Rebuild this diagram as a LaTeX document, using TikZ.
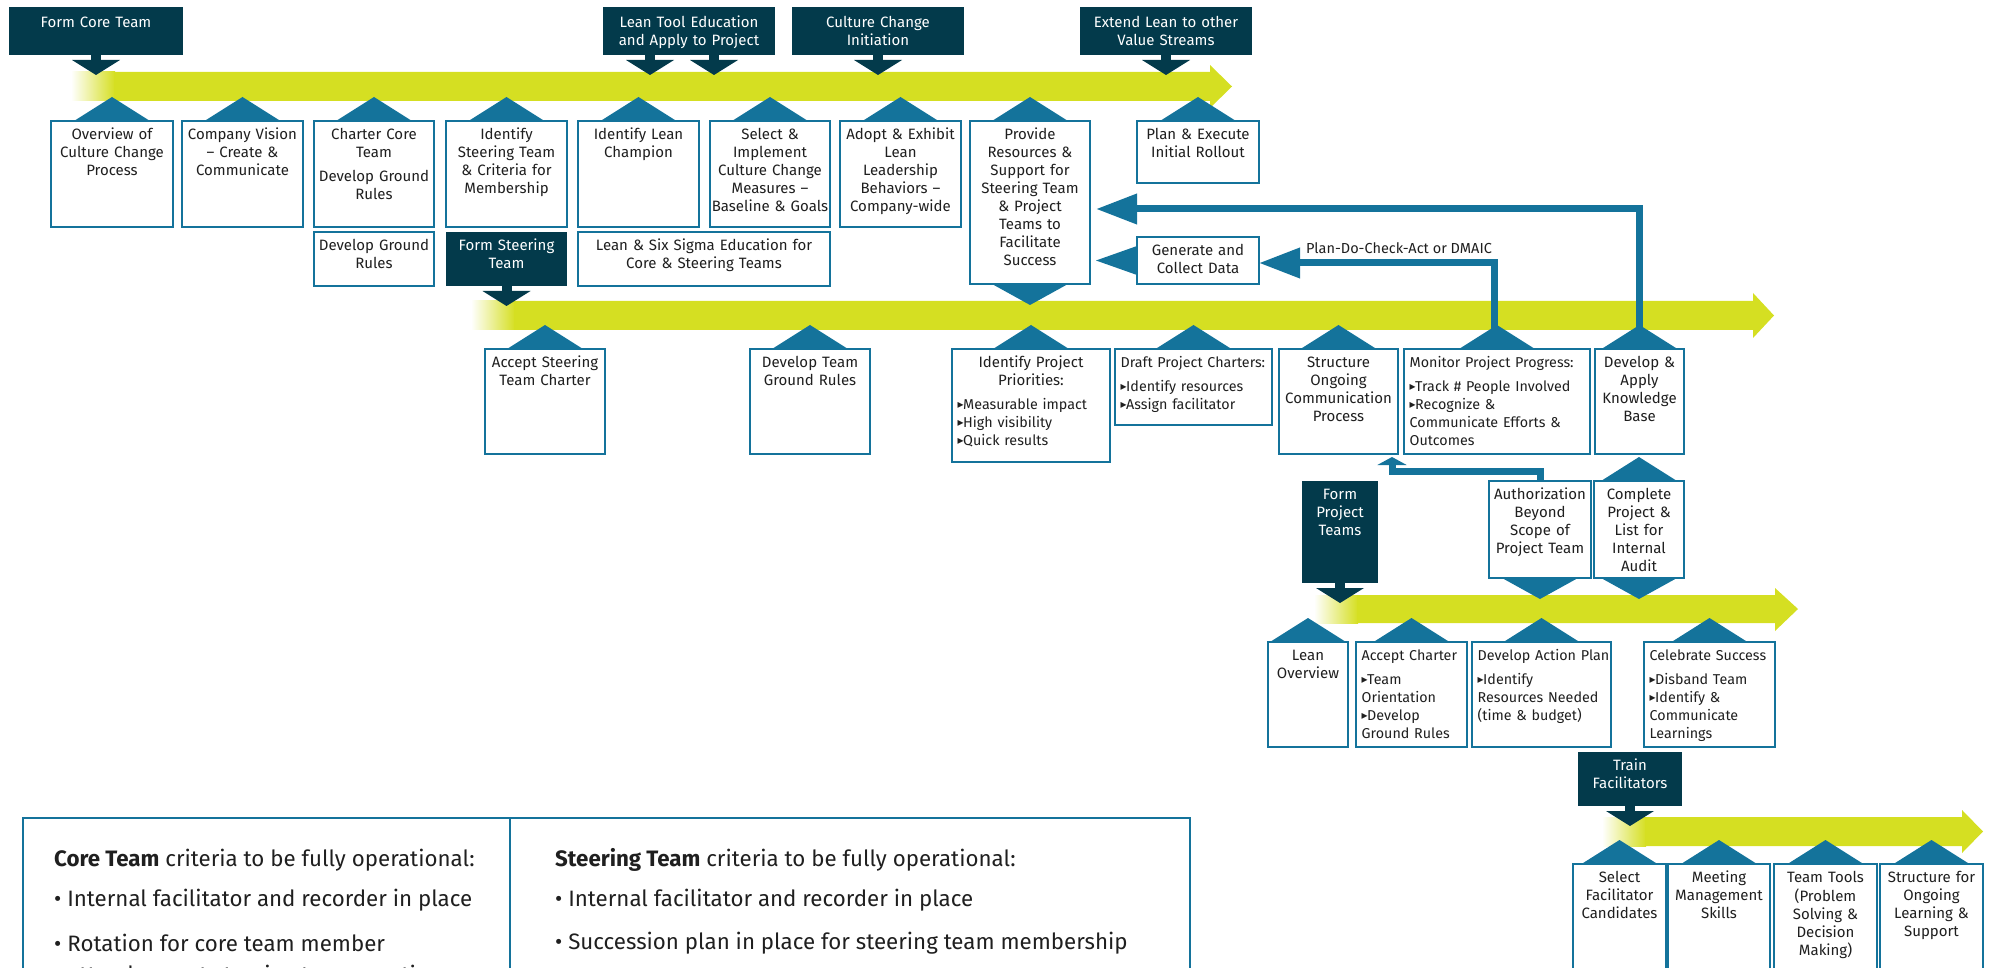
\documentclass[tikz,border=0pt]{standalone}
\usepackage{fontspec}
\setmainfont{Fira Sans}
\newfontfamily\symf{DejaVu Sans}
\usetikzlibrary{arrows.meta}
\definecolor{dk}{HTML}{033A4B}
\definecolor{blu}{HTML}{14739B}
\definecolor{grn}{HTML}{D5DF22}
\definecolor{ink}{HTML}{1F1F1F}
\newcommand\mytri{\raisebox{0.6pt}{\symf\fontsize{12}{12}\selectfont ▸}\hspace{-0.5pt}}
\newcommand\bx[8]{%
  \pgfmathsetmacro\bxw{#5-#3}\pgfmathsetmacro\bxh{#6-#4}%
  \node[#1, minimum width=\bxw pt, minimum height=\bxh pt] (#2) at (#3,#4) {};
  \node[#7] (#2-t) at ([yshift=-5.5pt]#2.north) {\strut #8};
}
\newcommand\bxl[7]{%
  \pgfmathsetmacro\bxw{#5-#3}\pgfmathsetmacro\bxh{#6-#4}%
  \node[#1, minimum width=\bxw pt, minimum height=\bxh pt] (#2) at (#3,#4) {};
  \node[ltxt] (#2-t) at ([xshift=5.5pt,yshift=-5.5pt]#2.north west) {\strut #7};
}
\newcommand\gbar[7]{%
  \shade[left color=white, right color=grn] (#1,#3) rectangle ({#1+44},#4);
  \fill[grn] ({#1+43},#3) -- (#2,#3) -- (#2,#6) -- (#5,{(#3+#4)/2}) -- (#2,#7) -- (#2,#4) -- ({#1+43},#4) -- cycle;}
\newcommand\dnarr[1]{%
  \fill[dk] ([xshift=-5pt]#1) rectangle ([xshift=5pt,yshift=-6pt]#1);
  \fill[dk] ([xshift=-24pt,yshift=-5pt]#1) -- ([xshift=24pt,yshift=-5pt]#1) -- ([yshift=-20pt]#1) -- cycle;}
\newcommand\uptri[1]{\fill[blu] ([xshift=-38pt]#1.north) -- ([yshift=24pt]#1.north) -- ([xshift=38pt]#1.north) -- cycle;}
\newcommand\dntri[1]{\fill[blu] ([xshift=-38pt]#1.south) -- ([yshift=-21pt]#1.south) -- ([xshift=38pt]#1.south) -- cycle;}
\tikzset{
  bxs/.style={draw=blu, line width=2pt, fill=white, inner sep=0pt, outer sep=0pt, anchor=north west},
  dbox/.style={fill=dk, draw=none, inner sep=0pt, outer sep=0pt, anchor=north west},
  ctxt/.style={text width=220pt, align=center, inner sep=0pt, anchor=north, text=ink, font=\fontsize{15}{18}\selectfont},
  ltxt/.style={text width=300pt, align=left, inner sep=0pt, anchor=north west, text=ink, font=\fontsize{14.3}{18}\selectfont},
  wtxt/.style={ctxt, text=white},
  wtxtt/.style={ctxt, text=white, yshift=-2.5pt},
  fb/.style={draw=blu, line width=7pt},
  tb/.style={anchor=west, inner sep=0pt, text=ink, font=\fontsize{22.3}{26}\selectfont},
}
\begin{document}
\begin{tikzpicture}[x=1pt,y=-1pt]
\useasboundingbox (0,0) rectangle (1992,968);
\clip (0,0) rectangle (1992,968);
% green timeline bars
\gbar{71}{1210}{72}{101}{1232}{65}{108}
\gbar{471}{1753}{301}{330}{1774}{293}{338}
\gbar{1314}{1775}{595}{623}{1798}{588}{631}
\gbar{1602}{1962}{817}{846}{1983}{810}{853}
% dark milestone boxes
\bx{dbox}{fct}{9}{7}{183}{55}{wtxtt}{Form Core Team}
\bx{dbox}{lte}{603}{7}{775}{55}{wtxtt}{Lean Tool Education\\and Apply to Project}
\bx{dbox}{cci}{792}{7}{964}{55}{wtxtt}{Culture Change\\Initiation}
\bx{dbox}{elv}{1080}{7}{1252}{55}{wtxtt}{Extend Lean to other\\Value Streams}
\bx{dbox}{fst}{446}{232}{567}{286}{wtxt}{Form Steering\\Team}
\bx{dbox}{fpt}{1302}{481}{1378}{583}{wtxt}{Form\\Project\\Teams}
\bx{dbox}{trf}{1578}{752}{1682}{806}{wtxt}{Train\\Facilitators}
% row 1
\bx{bxs}{ov}{51}{121}{173}{227}{ctxt}{Overview of\\Culture Change\\Process}
\bx{bxs}{cv}{182}{121}{303}{227}{ctxt}{Company Vision\\– Create \&\\Communicate}
\bx{bxs}{cc}{314}{121}{434}{227}{ctxt}{Charter Core\\Team\\[6pt]Develop Ground\\Rules}
\bx{bxs}{ist}{446}{121}{567}{227}{ctxt}{Identify\\Steering Team\\\& Criteria for\\Membership}
\bx{bxs}{ilc}{578}{121}{699}{227}{ctxt}{Identify Lean\\Champion}
\bx{bxs}{sim}{710}{121}{830}{227}{ctxt}{Select \&\\Implement\\Culture Change\\Measures –\\Baseline \& Goals}
\bx{bxs}{ado}{840}{121}{961}{227}{ctxt}{Adopt \& Exhibit\\Lean\\Leadership\\Behaviors –\\Company-wide}
\bx{bxs}{prv}{970}{121}{1090}{284}{ctxt}{Provide\\Resources \&\\Support for\\Steering Team\\\& Project\\Teams to\\Facilitate\\Success}
\bx{bxs}{pei}{1137}{121}{1259}{183}{ctxt}{Plan \& Execute\\Initial Rollout}
\bx{bxs}{dgr}{314}{232}{434}{286}{ctxt}{Develop Ground\\Rules}
\bx{bxs}{lss}{578}{232}{830}{286}{ctxt}{Lean \& Six Sigma Education for\\Core \& Steering Teams}
\bx{bxs}{gcd}{1137}{237}{1259}{284}{ctxt}{Generate and\\Collect Data}
% row 2
\bx{bxs}{ast}{485}{349}{605}{454}{ctxt}{Accept Steering\\Team Charter}
\bx{bxs}{dtg}{750}{349}{870}{454}{ctxt}{Develop Team\\Ground Rules}
\bx{bxs}{ipp}{952}{349}{1110}{462}{ctxt}{Identify Project\\Priorities:}
\node[ltxt] (ipp-b) at ([xshift=5.5pt,yshift=-47.5pt]ipp.north west) {\strut\mytri Measurable impact\\\mytri High visibility\\\mytri Quick results};
\bxl{bxs}{dpc}{1115}{349}{1272}{425}{Draft Project Charters:\\[6pt]\mytri Identify resources\\\mytri Assign facilitator}
\bx{bxs}{soc}{1279}{349}{1398}{454}{ctxt}{Structure\\Ongoing\\Communication\\Process}
\bxl{bxs}{mpp}{1404}{349}{1590}{454}{Monitor Project Progress:\\[6pt]\mytri Track \# People Involved\\\mytri Recognize \&\\Communicate Efforts \&\\Outcomes}
\bx{bxs}{dak}{1595}{349}{1684}{454}{ctxt}{Develop \&\\Apply\\Knowledge\\Base}
% row 3
\bx{bxs}{abs}{1489}{481}{1591}{578}{ctxt}{Authorization\\Beyond\\Scope of\\Project Team}
\bx{bxs}{cpl}{1594}{481}{1684}{578}{ctxt}{Complete\\Project \&\\List for\\Internal\\Audit}
% row 4
\bx{bxs}{lov}{1268}{642}{1348}{747}{ctxt}{Lean\\Overview}
\bxl{bxs}{ach}{1356}{642}{1467}{747}{Accept Charter\\[6pt]\mytri Team\\Orientation\\\mytri Develop\\Ground Rules}
\bxl{bxs}{dap}{1472}{642}{1611}{747}{Develop Action Plan\\[6pt]\mytri Identify\\Resources Needed\\(time \& budget)}
\bxl{bxs}{cel}{1644}{642}{1775}{747}{Celebrate Success\\[6pt]\mytri Disband Team\\\mytri Identify \&\\Communicate\\Learnings}
% row 5
\bx{bxs}{sfc}{1573}{864}{1666}{1000}{ctxt}{Select\\Facilitator\\Candidates}
\bx{bxs}{mms}{1668}{864}{1770}{1000}{ctxt}{Meeting\\Management\\Skills}
\bx{bxs}{ttl}{1774}{864}{1877}{1000}{ctxt}{Team Tools\\(Problem\\Solving \&\\Decision\\Making)}
\bx{bxs}{sol}{1880}{864}{1983}{1000}{ctxt}{Structure for\\Ongoing\\Learning \&\\Support}
% triangles linking boxes to bars
\foreach \b in {ov,cv,cc,ist,ilc,sim,ado,prv,pei,ast,dtg,ipp,dpc,soc,mpp,dak,cpl,lov,ach,dap,cel,sfc,mms,ttl,sol} {\uptri{\b}}
\foreach \b in {prv,abs,cpl} {\dntri{\b}}
% milestone arrows
\coordinate (lteA) at ([xshift=-39pt]lte.south);
\coordinate (lteB) at ([xshift=25pt]lte.south);
\dnarr{fct.south}
\dnarr{lteA}
\dnarr{lteB}
\dnarr{cci.south}
\dnarr{elv.south}
\dnarr{fst.south}
\dnarr{fpt.south}
\dnarr{trf.south}
% generate -> provide
\path (prv.east) ++(6pt,0) coordinate (px);
\fill[blu] ([yshift=14.5pt]gcd.west) -- (px |- gcd.west) -- ([yshift=-14.5pt]gcd.west) -- cycle;
% feedback connectors
\coordinate (dakA) at ([yshift=20pt]dak.north);
\coordinate (prvIn) at ([xshift=6pt,yshift=-6.5pt]prv.east);
\draw[fb, -{Triangle[length=41pt,width=29pt]}] (dakA) |- (prvIn);
\coordinate (mppA) at ([xshift=-3pt,yshift=20pt]mpp.north);
\coordinate (gcdIn) at ([yshift=-2.5pt]gcd.east);
\draw[fb, -{Triangle[length=41pt,width=29pt]}] (mppA) |- (gcdIn);
\node[anchor=west, inner sep=0pt, text=ink, font=\fontsize{14.5}{18}\selectfont] (pdca) at (1306,248) {Plan-Do-Check-Act or DMAIC};
\coordinate (absT) at ([yshift=9.5pt]abs.north);
\coordinate (socIn) at ([xshift=-6pt,yshift=-3pt]soc.south east);
\draw[fb, -{Triangle[length=8pt,width=29pt]}] (abs.north) -- (absT) -| (socIn);
% criteria table
\draw[blu, line width=2.5pt] (23,818) rectangle (1190,1010);
\draw[blu, line width=2pt] (510,818) -- (510,1010);
\node[tb] (ct1) at (54,860) {\textbf{Core Team} criteria to be fully operational:};
\node[tb] (ct2) at (54,900) {• Internal facilitator and recorder in place};
\node[tb] (ct3) at (54,943) {• Rotation for core team member};
\node[tb] (ct4) at (54,976) {\phantom{• }attendance at steering team meetings};
\node[tb] (st1) at (555,860) {\textbf{Steering Team} criteria to be fully operational:};
\node[tb] (st2) at (555,900) {• Internal facilitator and recorder in place};
\node[tb] (st3) at (555,943) {• Succession plan in place for steering team membership};
\end{tikzpicture}
\end{document}
